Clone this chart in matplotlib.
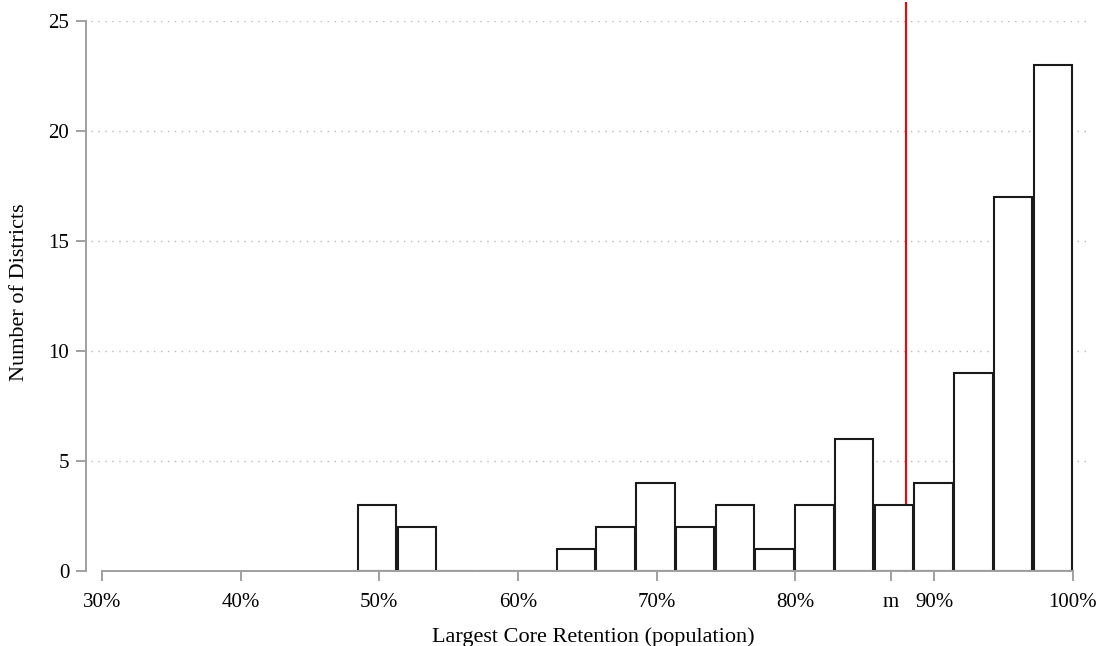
import numpy as np
import matplotlib.pyplot as plt

# histogram data
bin_start = 48.4
bin_width = 2.867
counts = [3, 2, 0, 0, 0, 1, 2, 4, 2, 3, 1, 3, 6, 3, 4, 9, 17, 23]
median_line = 88.0
median_tick = 86.9
x_ticks = [30, 40, 50, 60, 70, 80, 90, 100]
y_ticks = [0, 5, 10, 15, 20, 25]

plt.rcParams['font.family'] = ['Liberation Serif', 'DejaVu Serif']

fig = plt.figure(figsize=(11.05, 6.46), dpi=100)
ax = fig.add_axes([0.0778, 0.1161, 0.9068, 0.8514])

edges = bin_start + bin_width * np.arange(len(counts) + 1)

# red line sits behind the bars
ax.plot([median_line, median_line], [0, 25.8], color='red', lw=1.5,
        clip_on=False, zorder=1)
# small gap between neighbouring bars
ax.bar(edges[:-1] + 0.05, counts, width=bin_width - 0.1, align='edge',
       color='white', edgecolor='#1a1a1a', linewidth=1.5, zorder=2)

for y in y_ticks[1:]:
    ax.axhline(y, xmin=0.005, color='#b8b8b8', lw=1, ls=(0, (1, 4)), zorder=0)

ax.set_xlim(28.85, 101.1)
ax.set_ylim(0, 25)
ax.spines['top'].set_visible(False)
ax.spines['right'].set_visible(False)
for s in ['left', 'bottom']:
    ax.spines[s].set_color('#a0a0a0')
    ax.spines[s].set_linewidth(1.4)
ax.spines['bottom'].set_bounds(30, 100)
ax.spines['left'].set_bounds(0, 25)

ax.set_xticks(x_ticks + [median_tick])
ax.set_xticklabels([f'{v}%' for v in x_ticks] + ['m'])
ax.set_yticks(y_ticks)
ax.tick_params(axis='both', colors='#a0a0a0', labelcolor='black',
               length=7, width=1.4, labelsize=15)
ax.tick_params(axis='x', pad=9)
ax.tick_params(axis='y', pad=5)

fig.text(593.5 / 1105, 0.0065, 'Largest Core Retention (population)',
         fontsize=16, ha='center', va='baseline')
fig.text(20 / 1105, 0.548, 'Number of Districts', fontsize=16,
         rotation=90, ha='center', va='center')

fig.savefig('out.png', dpi=100)
